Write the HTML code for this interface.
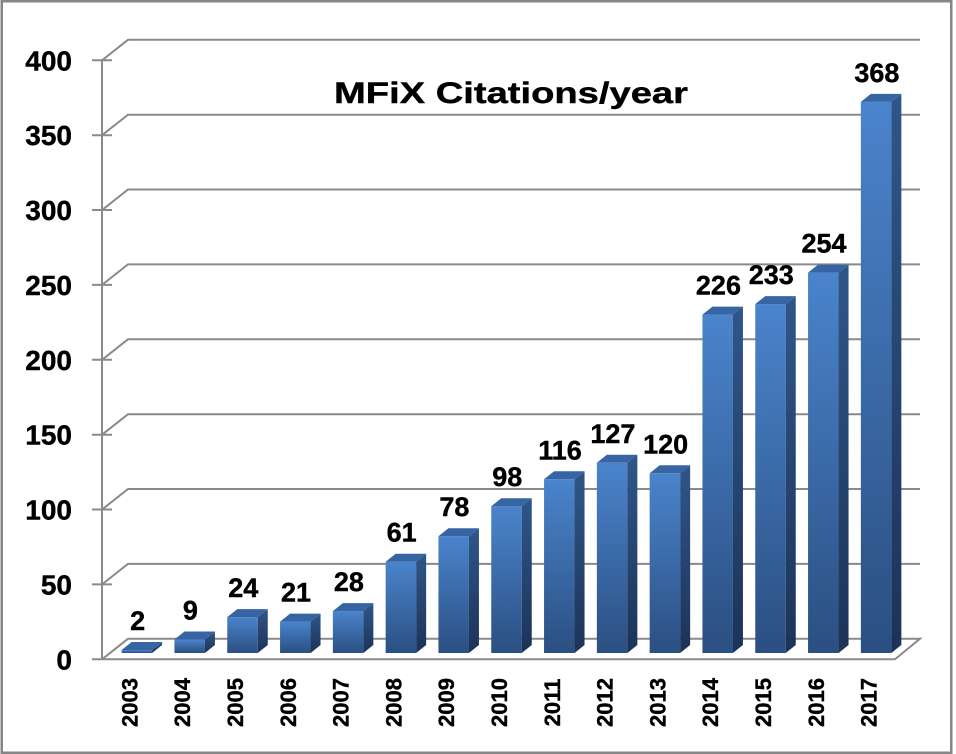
<!DOCTYPE html>
<html><head><meta charset="utf-8"><style>
html,body{margin:0;padding:0;background:#fff;}
svg{display:block;}
text{font-family:"Liberation Sans",Arial,sans-serif;font-weight:bold;fill:#000;stroke:#000;stroke-width:0.4;}
</style></head><body>
<svg width="956" height="754" viewBox="0 0 956 754" xmlns="http://www.w3.org/2000/svg">
<defs>
<linearGradient id="gf" x1="0" y1="0" x2="0" y2="1"><stop offset="0" stop-color="#4a84cc"/><stop offset="1" stop-color="#2b4f82"/></linearGradient>
<linearGradient id="gs" x1="0" y1="0" x2="0" y2="1"><stop offset="0" stop-color="#2f5689"/><stop offset="1" stop-color="#1c3358"/></linearGradient>
</defs>
<rect x="0" y="0" width="956" height="754" fill="#fff"/>
<rect x="1.75" y="1.25" width="949.5" height="751.5" fill="none" stroke="#868686" stroke-width="2.5"/>

<g stroke="#8a8a8a" stroke-width="2" fill="none">
<path d="M102,60.3 V659.3"/>
<path d="M92,60.3 H112 M102,60.3 L128,39.8 H920"/>
<path d="M92,135.2 H112 M102,135.2 L128,114.7 H920"/>
<path d="M92,210.05 H112 M102,210.05 L128,189.5 H920"/>
<path d="M92,284.9 H112 M102,284.9 L128,264.4 H920"/>
<path d="M92,359.8 H112 M102,359.8 L128,339.3 H920"/>
<path d="M92,434.7 H112 M102,434.7 L128,414.2 H920"/>
<path d="M92,509.55 H112 M102,509.55 L128,489 H920"/>
<path d="M92,584.4 H112 M102,584.4 L128,563.9 H920"/>
<path d="M92,659.3 H112 M102,659.3 L128,638.8 H920 L895,659.3 H102"/>
</g>

<g font-size="28" text-anchor="end">
<text x="72" y="70.3">400</text>
<text x="72" y="145.2">350</text>
<text x="72" y="220.05">300</text>
<text x="72" y="294.9">250</text>
<text x="72" y="369.8">200</text>
<text x="72" y="444.7">150</text>
<text x="72" y="519.55">100</text>
<text x="72" y="594.4">50</text>
<text x="72" y="669.3">0</text>
</g>

<text x="334" y="103" font-size="30" textLength="354" lengthAdjust="spacingAndGlyphs">MFiX Citations/year</text>

<g font-size="27" text-anchor="middle">
<g transform="translate(121.65,650)"><rect width="30.5" height="3" fill="url(#gf)"/><polygon points="0,0 10,-8 40.5,-8 30.5,0" fill="#3765a3"/><polygon points="30.5,0 40.5,-8 40.5,-5 30.5,3" fill="url(#gs)"/><text x="16" y="-20">2</text></g>
<g transform="translate(174.45,639.5)"><rect width="30.5" height="13.5" fill="url(#gf)"/><polygon points="0,0 10,-8 40.5,-8 30.5,0" fill="#3765a3"/><polygon points="30.5,0 40.5,-8 40.5,5.5 30.5,13.5" fill="url(#gs)"/><text x="16" y="-20">9</text></g>
<g transform="translate(227.25,617.1)"><rect width="30.5" height="35.9" fill="url(#gf)"/><polygon points="0,0 10,-8 40.5,-8 30.5,0" fill="#3765a3"/><polygon points="30.5,0 40.5,-8 40.5,27.9 30.5,35.9" fill="url(#gs)"/><text x="16" y="-20">24</text></g>
<g transform="translate(280.05,621.6)"><rect width="30.5" height="31.4" fill="url(#gf)"/><polygon points="0,0 10,-8 40.5,-8 30.5,0" fill="#3765a3"/><polygon points="30.5,0 40.5,-8 40.5,23.4 30.5,31.4" fill="url(#gs)"/><text x="16" y="-20">21</text></g>
<g transform="translate(332.85,611.1)"><rect width="30.5" height="41.9" fill="url(#gf)"/><polygon points="0,0 10,-8 40.5,-8 30.5,0" fill="#3765a3"/><polygon points="30.5,0 40.5,-8 40.5,33.9 30.5,41.9" fill="url(#gs)"/><text x="16" y="-20">28</text></g>
<g transform="translate(385.65,561.7)"><rect width="30.5" height="91.3" fill="url(#gf)"/><polygon points="0,0 10,-8 40.5,-8 30.5,0" fill="#3765a3"/><polygon points="30.5,0 40.5,-8 40.5,83.3 30.5,91.3" fill="url(#gs)"/><text x="16" y="-20">61</text></g>
<g transform="translate(438.45,536.2)"><rect width="30.5" height="116.8" fill="url(#gf)"/><polygon points="0,0 10,-8 40.5,-8 30.5,0" fill="#3765a3"/><polygon points="30.5,0 40.5,-8 40.5,108.8 30.5,116.8" fill="url(#gs)"/><text x="16" y="-20">78</text></g>
<g transform="translate(491.25,506.2)"><rect width="30.5" height="146.8" fill="url(#gf)"/><polygon points="0,0 10,-8 40.5,-8 30.5,0" fill="#3765a3"/><polygon points="30.5,0 40.5,-8 40.5,138.8 30.5,146.8" fill="url(#gs)"/><text x="16" y="-20">98</text></g>
<g transform="translate(544.05,479.3)"><rect width="30.5" height="173.7" fill="url(#gf)"/><polygon points="0,0 10,-8 40.5,-8 30.5,0" fill="#3765a3"/><polygon points="30.5,0 40.5,-8 40.5,165.7 30.5,173.7" fill="url(#gs)"/><text x="16" y="-20">116</text></g>
<g transform="translate(596.85,462.8)"><rect width="30.5" height="190.2" fill="url(#gf)"/><polygon points="0,0 10,-8 40.5,-8 30.5,0" fill="#3765a3"/><polygon points="30.5,0 40.5,-8 40.5,182.2 30.5,190.2" fill="url(#gs)"/><text x="16" y="-20">127</text></g>
<g transform="translate(649.65,473.3)"><rect width="30.5" height="179.7" fill="url(#gf)"/><polygon points="0,0 10,-8 40.5,-8 30.5,0" fill="#3765a3"/><polygon points="30.5,0 40.5,-8 40.5,171.7 30.5,179.7" fill="url(#gs)"/><text x="16" y="-20">120</text></g>
<g transform="translate(702.45,314.6)"><rect width="30.5" height="338.4" fill="url(#gf)"/><polygon points="0,0 10,-8 40.5,-8 30.5,0" fill="#3765a3"/><polygon points="30.5,0 40.5,-8 40.5,330.4 30.5,338.4" fill="url(#gs)"/><text x="16" y="-20">226</text></g>
<g transform="translate(755.25,304.1)"><rect width="30.5" height="348.9" fill="url(#gf)"/><polygon points="0,0 10,-8 40.5,-8 30.5,0" fill="#3765a3"/><polygon points="30.5,0 40.5,-8 40.5,340.9 30.5,348.9" fill="url(#gs)"/><text x="16" y="-20">233</text></g>
<g transform="translate(808.05,272.6)"><rect width="30.5" height="380.4" fill="url(#gf)"/><polygon points="0,0 10,-8 40.5,-8 30.5,0" fill="#3765a3"/><polygon points="30.5,0 40.5,-8 40.5,372.4 30.5,380.4" fill="url(#gs)"/><text x="16" y="-20">254</text></g>
<g transform="translate(860.85,101.9)"><rect width="30.5" height="551.1" fill="url(#gf)"/><polygon points="0,0 10,-8 40.5,-8 30.5,0" fill="#3765a3"/><polygon points="30.5,0 40.5,-8 40.5,543.1 30.5,551.1" fill="url(#gs)"/><text x="16" y="-20">368</text></g>
</g>

<g font-size="22" text-anchor="middle" style="stroke-width:0.7">
<text transform="translate(129.4,702.5) rotate(-90)" x="0" y="8">2003</text>
<text transform="translate(182.2,702.5) rotate(-90)" x="0" y="8">2004</text>
<text transform="translate(235,702.5) rotate(-90)" x="0" y="8">2005</text>
<text transform="translate(287.8,702.5) rotate(-90)" x="0" y="8">2006</text>
<text transform="translate(340.6,702.5) rotate(-90)" x="0" y="8">2007</text>
<text transform="translate(393.4,702.5) rotate(-90)" x="0" y="8">2008</text>
<text transform="translate(446.2,702.5) rotate(-90)" x="0" y="8">2009</text>
<text transform="translate(499,702.5) rotate(-90)" x="0" y="8">2010</text>
<text transform="translate(551.8,702.5) rotate(-90)" x="0" y="8">2011</text>
<text transform="translate(604.6,702.5) rotate(-90)" x="0" y="8">2012</text>
<text transform="translate(657.4,702.5) rotate(-90)" x="0" y="8">2013</text>
<text transform="translate(710.2,702.5) rotate(-90)" x="0" y="8">2014</text>
<text transform="translate(763,702.5) rotate(-90)" x="0" y="8">2015</text>
<text transform="translate(815.8,702.5) rotate(-90)" x="0" y="8">2016</text>
<text transform="translate(868.6,702.5) rotate(-90)" x="0" y="8">2017</text>
</g>
</svg>
</body></html>
